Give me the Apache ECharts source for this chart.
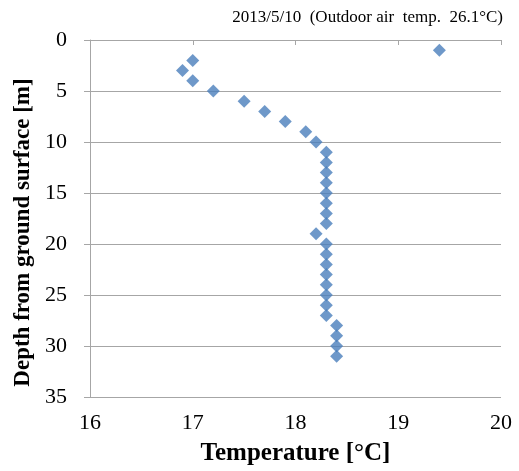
<!DOCTYPE html>
<html>
<head>
<meta charset="utf-8">
<script src="https://cdn.jsdelivr.net/npm/echarts@6/dist/echarts.min.js"></script>
<style>
    html, body { margin: 0; padding: 0; background: #fff; }
    #chart { width: 519px; height: 471px; }
</style>
</head>
<body>
<div id="chart"></div>
<script>
    // depth [m] and measured temperature [°C]
    var depths = [1, 2, 3, 4, 5, 6, 7, 8, 9, 10, 11, 12, 13, 14, 15, 16, 17, 18, 19, 20,
        21, 22, 23, 24, 25, 26, 27, 28, 29, 30, 31];
    var temps = [19.4, 17.0, 16.9, 17.0, 17.2, 17.5, 17.7, 17.9, 18.1, 18.2, 18.3, 18.3, 18.3, 18.3,
        18.3, 18.3, 18.3, 18.3, 18.2, 18.3, 18.3, 18.3, 18.3, 18.3, 18.3, 18.3, 18.3, 18.4, 18.4, 18.4, 18.4];
    var titleText = '2013/5/10  (Outdoor air  temp.  26.1°C)';

    var points = [];
    for (var i = 0; i < depths.length; i++) {
        points.push([temps[i], depths[i]]);
    }

    var serif = '"Liberation Serif", "Times New Roman", serif';
    var chart = echarts.init(document.getElementById('chart'));
    var option = {
        animation: false,
        title: {
            text: titleText,
            right: 11,
            top: 4,
            textStyle: { fontFamily: serif, fontSize: 17, fontWeight: 'normal', color: '#000' }
        },
        grid: { left: 90, right: 18, top: 40, bottom: 72 },
        xAxis: {
            type: 'value',
            min: 16, max: 20, interval: 1,
            name: 'Temperature [°C]',
            nameLocation: 'middle',
            nameGap: 44,
            nameTextStyle: { fontFamily: serif, fontSize: 25, fontWeight: 'bold', color: '#000' },
            axisLine: { show: true, lineStyle: { color: '#a6a6a6' } },
            axisTick: { show: true, length: 5, lineStyle: { color: '#a6a6a6' } },
            axisLabel: { fontFamily: serif, fontSize: 22, color: '#000', margin: 15 },
            splitLine: { show: false }
        },
        yAxis: {
            type: 'value',
            inverse: true,
            min: 0, max: 35, interval: 5,
            name: 'Depth from ground surface [m]',
            nameLocation: 'middle',
            nameGap: 55,
            nameTextStyle: { fontFamily: serif, fontSize: 23, fontWeight: 'bold', color: '#000', padding: [0, 28, 0, 0] },
            axisLine: { show: true, lineStyle: { color: '#a6a6a6' } },
            axisTick: { show: true, length: 6, lineStyle: { color: '#a6a6a6' } },
            axisLabel: { fontFamily: serif, fontSize: 22, color: '#000', margin: 23 },
            splitLine: { show: true, lineStyle: { color: '#a6a6a6' } }
        },
        series: [{
            type: 'scatter',
            symbol: 'diamond',
            symbolSize: 13,
            itemStyle: { color: '#4a7ebb' },
            data: points
        }]
    };
    chart.setOption(option);
</script>
</body>
</html>
